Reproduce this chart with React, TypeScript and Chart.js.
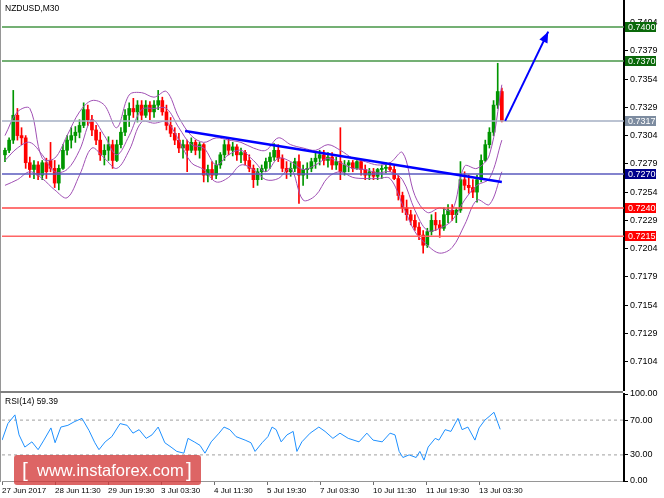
import React, { useEffect, useRef } from 'react';
import { Chart, registerables } from 'chart.js';

Chart.register(...registerables);

const FONT = '"Liberation Sans", Arial, sans-serif';

// ---------- price candles (each candle = 5 x M30 bars) ----------
const candleOpen = [
  0.7287, 0.7291, 0.7300, 0.7322, 0.7304, 0.7302, 0.7280, 0.7274, 0.7278, 0.7269,
  0.7280, 0.7282, 0.7275, 0.7262, 0.7275, 0.7291, 0.7300, 0.7304, 0.7307, 0.7313,
  0.7327, 0.7318, 0.7309, 0.7300, 0.7287, 0.7291, 0.7296, 0.7282, 0.7296, 0.7307,
  0.7322, 0.7328, 0.7325, 0.7331, 0.7322, 0.7331, 0.7325, 0.7331, 0.7335, 0.7325,
  0.7313, 0.7306, 0.7300, 0.7293, 0.7296, 0.7291, 0.7298, 0.7291, 0.7296, 0.7269,
  0.7274, 0.7269, 0.7278, 0.7287, 0.7296, 0.7291, 0.7294, 0.7287, 0.7289, 0.7282,
  0.7275, 0.7265, 0.7272, 0.7275, 0.7281, 0.7285, 0.7291, 0.7284, 0.7275, 0.7272,
  0.7275, 0.7281, 0.7269, 0.7274, 0.7275, 0.7281, 0.7284, 0.7287, 0.7282, 0.7285,
  0.7278, 0.7281, 0.7272, 0.7278, 0.7280, 0.7275, 0.7281, 0.7274, 0.7269, 0.7272,
  0.7268, 0.7274, 0.7275, 0.7276, 0.7274, 0.7266, 0.7251, 0.7240, 0.7234, 0.7229,
  0.7223, 0.7216, 0.7207, 0.7219, 0.7229, 0.7225, 0.7222, 0.7234, 0.7238, 0.7234,
  0.7238, 0.7265, 0.7260, 0.7258, 0.7254, 0.7265, 0.7282, 0.7296, 0.7307, 0.7331,
  0.7343,
];
const candleHigh = [
  0.7293, 0.7302, 0.7344, 0.7328, 0.7311, 0.7304, 0.7285, 0.7282, 0.7281, 0.7282,
  0.7284, 0.7298, 0.7282, 0.7278, 0.7296, 0.7304, 0.7311, 0.7312, 0.7318, 0.7333,
  0.7331, 0.7322, 0.7313, 0.7307, 0.7296, 0.7303, 0.7300, 0.7300, 0.7311, 0.7327,
  0.7333, 0.7337, 0.7335, 0.7335, 0.7335, 0.7334, 0.7335, 0.7344, 0.7338, 0.7331,
  0.7320, 0.7311, 0.7306, 0.7300, 0.7300, 0.7302, 0.7300, 0.7298, 0.7297, 0.7278,
  0.7281, 0.7282, 0.7289, 0.7300, 0.7302, 0.7298, 0.7296, 0.7293, 0.7291, 0.7287,
  0.7278, 0.7275, 0.7278, 0.7284, 0.7289, 0.7297, 0.7296, 0.7287, 0.7281, 0.7280,
  0.7284, 0.7287, 0.7278, 0.7280, 0.7284, 0.7289, 0.7291, 0.7291, 0.7289, 0.7289,
  0.7285, 0.7311, 0.7282, 0.7282, 0.7282, 0.7282, 0.7282, 0.7278, 0.7275, 0.7275,
  0.7275, 0.7278, 0.7280, 0.7280, 0.7277, 0.7269, 0.7254, 0.7247, 0.7238, 0.7234,
  0.7227, 0.7220, 0.7222, 0.7234, 0.7236, 0.7229, 0.7240, 0.7243, 0.7243, 0.7240,
  0.7281, 0.7272, 0.7269, 0.7265, 0.7269, 0.7287, 0.7300, 0.7311, 0.7335, 0.7368,
  0.7346,
];
const candleLow = [
  0.7281, 0.7289, 0.7297, 0.7300, 0.7296, 0.7275, 0.7267, 0.7266, 0.7265, 0.7265,
  0.7266, 0.7272, 0.7258, 0.7256, 0.7274, 0.7287, 0.7293, 0.7298, 0.7302, 0.7311,
  0.7313, 0.7304, 0.7296, 0.7282, 0.7278, 0.7282, 0.7275, 0.7281, 0.7293, 0.7304,
  0.7312, 0.7320, 0.7316, 0.7318, 0.7320, 0.7318, 0.7320, 0.7327, 0.7322, 0.7309,
  0.7303, 0.7296, 0.7289, 0.7284, 0.7272, 0.7289, 0.7287, 0.7284, 0.7263, 0.7263,
  0.7265, 0.7266, 0.7275, 0.7282, 0.7287, 0.7286, 0.7282, 0.7280, 0.7278, 0.7272,
  0.7258, 0.7260, 0.7265, 0.7272, 0.7275, 0.7282, 0.7281, 0.7272, 0.7266, 0.7268,
  0.7272, 0.7244, 0.7260, 0.7266, 0.7272, 0.7275, 0.7278, 0.7278, 0.7276, 0.7274,
  0.7274, 0.7265, 0.7269, 0.7272, 0.7272, 0.7274, 0.7269, 0.7265, 0.7265, 0.7265,
  0.7265, 0.7266, 0.7271, 0.7272, 0.7265, 0.7247, 0.7236, 0.7229, 0.7225, 0.7220,
  0.7212, 0.7200, 0.7205, 0.7216, 0.7220, 0.7214, 0.7220, 0.7227, 0.7229, 0.7227,
  0.7236, 0.7256, 0.7253, 0.7249, 0.7245, 0.7263, 0.7281, 0.7293, 0.7304, 0.7328,
  0.7316,
];
const candleClose = [
  0.7291, 0.7300, 0.7322, 0.7304, 0.7302, 0.7280, 0.7274, 0.7278, 0.7269, 0.7280,
  0.7272, 0.7275, 0.7262, 0.7275, 0.7291, 0.7300, 0.7304, 0.7307, 0.7313, 0.7327,
  0.7318, 0.7309, 0.7300, 0.7287, 0.7291, 0.7296, 0.7282, 0.7296, 0.7307, 0.7322,
  0.7328, 0.7325, 0.7331, 0.7322, 0.7331, 0.7325, 0.7331, 0.7335, 0.7325, 0.7313,
  0.7306, 0.7300, 0.7293, 0.7296, 0.7291, 0.7298, 0.7291, 0.7296, 0.7269, 0.7274,
  0.7269, 0.7278, 0.7287, 0.7296, 0.7291, 0.7294, 0.7287, 0.7289, 0.7282, 0.7275,
  0.7265, 0.7272, 0.7275, 0.7281, 0.7285, 0.7291, 0.7284, 0.7275, 0.7272, 0.7275,
  0.7281, 0.7269, 0.7274, 0.7275, 0.7281, 0.7284, 0.7287, 0.7282, 0.7285, 0.7278,
  0.7281, 0.7272, 0.7278, 0.7280, 0.7275, 0.7281, 0.7274, 0.7269, 0.7272, 0.7268,
  0.7274, 0.7275, 0.7276, 0.7274, 0.7266, 0.7251, 0.7240, 0.7234, 0.7229, 0.7223,
  0.7216, 0.7207, 0.7219, 0.7229, 0.7225, 0.7222, 0.7234, 0.7238, 0.7234, 0.7238,
  0.7265, 0.7260, 0.7258, 0.7254, 0.7265, 0.7282, 0.7296, 0.7307, 0.7331, 0.7343,
  0.7317,
];

// ---------- Bollinger bands, read every 3 candles ----------
const bbIdx = [
  0, 3, 6, 9, 12, 15, 18, 21, 24, 27, 30, 33, 36, 39, 42, 45, 48, 51, 54, 57,
  60, 63, 66, 69, 72, 75, 78, 81, 84, 87, 90, 93, 96, 99, 102, 105, 108, 111, 114, 117, 120,
];
const bbUpper = [
  0.7304, 0.7325, 0.7328, 0.7284, 0.7284, 0.7304, 0.7325, 0.7335, 0.7331, 0.7311,
  0.7340, 0.7342, 0.7338, 0.7343, 0.7320, 0.7304, 0.7298, 0.7302, 0.7300, 0.7298,
  0.7293, 0.7291, 0.7302, 0.7296, 0.7293, 0.7291, 0.7296, 0.7291, 0.7284, 0.7281,
  0.7278, 0.7280, 0.7289, 0.7251, 0.7236, 0.7240, 0.7238, 0.7277, 0.7275, 0.7287,
  0.7349,
];
const bbMiddle = [
  0.7282, 0.7293, 0.7298, 0.7287, 0.7272, 0.7274, 0.7291, 0.7318, 0.7304, 0.7287,
  0.7304, 0.7327, 0.7328, 0.7328, 0.7311, 0.7296, 0.7293, 0.7278, 0.7287, 0.7291,
  0.7282, 0.7272, 0.7284, 0.7281, 0.7274, 0.7278, 0.7284, 0.7280, 0.7275, 0.7274,
  0.7271, 0.7272, 0.7265, 0.7238, 0.7220, 0.7222, 0.7229, 0.7247, 0.7260, 0.7266,
  0.7300,
];
const bbLower = [
  0.7260, 0.7265, 0.7272, 0.7266, 0.7256, 0.7249, 0.7269, 0.7293, 0.7284, 0.7275,
  0.7291, 0.7316, 0.7315, 0.7316, 0.7300, 0.7280, 0.7274, 0.7263, 0.7267, 0.7278,
  0.7274, 0.7265, 0.7266, 0.7275, 0.7247, 0.7251, 0.7267, 0.7272, 0.7267, 0.7266,
  0.7266, 0.7266, 0.7243, 0.7219, 0.7207, 0.7200, 0.7205, 0.7225, 0.7247, 0.7243,
  0.7272,
];

// ---------- RSI(14) ----------
const rsiIdx = [
  -0.7, 0.7, 2.4, 3.4, 4.8, 6.5, 8.0, 9.4, 11.1, 12.1, 13.5, 15.2, 16.7, 18.6, 20.3,
  21.7, 22.7, 24.2, 25.8, 27.8, 29.5, 30.9, 32.4, 34.1, 35.5, 37.0, 38.6, 40.1, 41.5,
  43.2, 44.2, 45.7, 47.1, 48.3, 49.8, 51.7, 52.9, 54.3, 55.8, 58.0, 59.4, 60.4, 62.1,
  63.5, 64.5, 65.5, 66.7, 68.1, 69.6, 70.5, 71.7, 73.7, 75.8, 77.3, 79.2, 80.9, 82.9,
  85.5, 87.4, 88.9, 91.1, 93.0, 94.2, 95.2, 96.1, 97.6, 99.3, 100.2, 101.2, 102.2,
  103.9, 104.8, 106.3, 107.7, 109.4, 110.4, 111.8, 113.5, 114.5, 115.9, 116.9, 118.1,
  119.1, 119.6,
];
const rsiVal = [
  47, 66, 76, 53, 39, 45, 36, 47, 61, 44, 62, 64, 68, 72, 58,
  44, 36, 45, 51, 66, 64, 55, 59, 49, 53, 62, 44, 39, 34,
  32, 49, 45, 41, 32, 45, 55, 62, 59, 51, 47, 44, 34, 44,
  51, 62, 59, 45, 53, 57, 34, 45, 55, 62, 57, 49, 55, 49,
  45, 55, 47, 45, 55, 53, 34, 27, 30, 27, 34, 24, 39,
  49, 47, 59, 57, 72, 59, 62, 47, 61, 70, 74, 79,
  66, 59.39,
];
const rsiLevels = [70, 30];
const rsiTicks = [0, 30, 70, 100];

// ---------- axes ----------
const priceTicks = [
  0.7104, 0.7129, 0.7154, 0.7179, 0.7204, 0.7229, 0.7254, 0.7279, 0.7304, 0.7329,
  0.7354, 0.7379, 0.7404,
];
const dateLabels = [
  '27 Jun 2017', '28 Jun 11:30', '29 Jun 19:30', '3 Jul 03:30', '4 Jul 11:30',
  '5 Jul 19:30', '7 Jul 03:30', '10 Jul 11:30', '11 Jul 19:30', '13 Jul 03:30',
];
const dateTickIdx = [-0.7, 12.1, 24.9, 37.7, 50.5, 63.3, 76.1, 88.9, 101.7, 114.5];

// ---------- drawn objects ----------
const levelValues = [0.74, 0.737, 0.7317, 0.727, 0.724, 0.7215];
const levelLineColors = [
  'rgb(70,150,70)', 'rgb(70,150,70)', 'rgb(165,175,195)', 'rgb(90,90,190)',
  'rgb(255,70,70)', 'rgb(255,100,100)',
];
const levelBoxColors = [
  'rgb(10,105,10)', 'rgb(10,105,10)', 'rgb(125,140,160)', 'rgb(0,0,140)',
  'rgb(255,0,0)', 'rgb(255,0,0)',
];
const trendIdx = [43.5, 120];
const trendPrice = [0.7308, 0.7263];
const arrowIdx = [120.8, 131.2];
const arrowPrice = [0.7317, 0.7396];

const X_MIN = -0.72;
const X_MAX = 149.5;
const Y_MIN = 0.70789;
const Y_MAX = 0.74231;

const GREEN = 'rgb(0,150,0)';
const RED = 'rgb(255,0,0)';
const PURPLE = 'rgb(160,80,180)';
const BLUE = 'rgb(0,0,255)';

const mainFrame = {
  id: 'mainFrame',
  afterDraw(chart: any) {
    const { ctx, chartArea } = chart;
    ctx.save();
    ctx.fillStyle = 'rgb(150,150,150)';
    ctx.fillRect(0, 0, 1, chartArea.bottom + 1);
    ctx.fillStyle = 'rgb(128,128,128)';
    ctx.fillRect(0, chartArea.bottom + 1, chartArea.right - 1, 2);
    // level labels
    const y = chart.scales.y;
    ctx.font = `9px ${FONT}`;
    ctx.textBaseline = 'middle';
    ctx.textAlign = 'left';
    levelValues.forEach((v, i) => {
      const py = Math.round(y.getPixelForValue(v));
      ctx.fillStyle = levelBoxColors[i];
      ctx.fillRect(chartArea.right + 1, py - 5, 31, 10);
      ctx.fillStyle = '#fff';
      ctx.fillText(v.toFixed(4), chartArea.right + 4, py + 0.5);
    });
    // arrow head
    const xs = chart.scales.x;
    const x0 = xs.getPixelForValue(arrowIdx[0]);
    const y0 = y.getPixelForValue(arrowPrice[0]);
    const x1 = xs.getPixelForValue(arrowIdx[1]);
    const y1 = y.getPixelForValue(arrowPrice[1]);
    const ang = Math.atan2(y1 - y0, x1 - x0);
    const len = 11;
    const hw = 4.5;
    const bx = x1 - Math.cos(ang) * len;
    const by = y1 - Math.sin(ang) * len;
    ctx.fillStyle = BLUE;
    ctx.beginPath();
    ctx.moveTo(x1, y1);
    ctx.lineTo(bx + Math.sin(ang) * hw, by - Math.cos(ang) * hw);
    ctx.lineTo(bx - Math.sin(ang) * hw, by + Math.cos(ang) * hw);
    ctx.closePath();
    ctx.fill();
    ctx.restore();
  },
};

const rsiFrame = {
  id: 'rsiFrame',
  afterDraw(chart: any) {
    const { ctx, chartArea } = chart;
    ctx.save();
    ctx.fillStyle = 'rgb(150,150,150)';
    ctx.fillRect(0, chartArea.top - 1, 1, chartArea.bottom - chartArea.top + 2);
    ctx.restore();
  },
};

export default function App() {
  const mainRef = useRef<HTMLCanvasElement>(null);
  const rsiRef = useRef<HTMLCanvasElement>(null);

  useEffect(() => {
    Chart.defaults.font.family = FONT;
    const colors = candleOpen.map((o, i) => (candleClose[i] >= o ? GREEN : RED));

    const levelSets = levelValues.map((v, i) => ({
      type: 'line' as const,
      data: [{ x: X_MIN, y: v }, { x: X_MAX, y: v }],
      borderColor: levelLineColors[i],
      borderWidth: 1.5,
      pointRadius: 0,
      order: 10,
    }));
    const band = (arr: number[]) => ({
      type: 'line' as const,
      data: bbIdx.map((k, i) => ({ x: k, y: arr[i] })),
      borderColor: PURPLE,
      borderWidth: 1,
      pointRadius: 0,
      tension: 0.35,
      order: 20,
    });

    const main = new Chart(mainRef.current as HTMLCanvasElement, {
      type: 'bar',
      data: {
        datasets: [
          {
            type: 'bar',
            data: candleOpen.map((_, i) => ({ x: i, y: [candleLow[i], candleHigh[i]] })) as any,
            backgroundColor: colors,
            barThickness: 1,
            grouped: false,
            order: 31,
          } as any,
          {
            type: 'bar',
            data: candleOpen.map((o, i) => ({ x: i, y: [o, candleClose[i]] })) as any,
            backgroundColor: colors,
            barThickness: 3,
            grouped: false,
            order: 30,
          } as any,
          band(bbUpper),
          band(bbMiddle),
          band(bbLower),
          ...levelSets,
          {
            type: 'line',
            data: trendIdx.map((k, i) => ({ x: k, y: trendPrice[i] })),
            borderColor: BLUE,
            borderWidth: 2.5,
            pointRadius: 0,
            order: 5,
          },
          {
            type: 'line',
            data: arrowIdx.map((k, i) => ({ x: k, y: arrowPrice[i] })),
            borderColor: BLUE,
            borderWidth: 2,
            pointRadius: 0,
            order: 4,
          },
        ] as any,
      },
      options: {
        responsive: false,
        animation: false,
        devicePixelRatio: 1,
        events: [],
        layout: { padding: { left: 2, top: 1, right: 0, bottom: 3 } },
        plugins: { legend: { display: false }, tooltip: { enabled: false } },
        scales: {
          x: { type: 'linear', min: X_MIN, max: X_MAX, display: false, offset: false },
          y: {
            type: 'linear',
            position: 'right',
            min: Y_MIN,
            max: Y_MAX,
            afterBuildTicks: (s: any) => {
              s.ticks = priceTicks.map((v) => ({ value: v }));
            },
            afterFit: (s: any) => {
              s.width = 40;
              s.paddingTop = 0;
              s.paddingBottom = 0;
            },
            ticks: {
              callback: (v: any) => Number(v).toFixed(4),
              font: { size: 9 },
              color: '#000',
              padding: 2,
            },
            grid: { drawOnChartArea: false, drawTicks: true, tickLength: 4, color: '#000' },
            border: { display: true, color: '#000', width: 2 },
          },
        },
      } as any,
      plugins: [mainFrame],
    });

    const rsi = new Chart(rsiRef.current as HTMLCanvasElement, {
      type: 'line',
      data: {
        datasets: [
          {
            data: rsiIdx.map((k, i) => ({ x: k, y: rsiVal[i] })),
            borderColor: 'rgb(30,144,255)',
            borderWidth: 1,
            pointRadius: 0,
            order: 1,
          },
          ...rsiLevels.map((v) => ({
            data: [{ x: X_MIN, y: v }, { x: X_MAX, y: v }],
            borderColor: 'rgb(160,160,160)',
            borderWidth: 1,
            borderDash: [3, 3],
            pointRadius: 0,
            order: 2,
          })),
        ],
      },
      options: {
        responsive: false,
        animation: false,
        devicePixelRatio: 1,
        events: [],
        layout: { padding: { left: 2, top: 8, right: 0, bottom: 0 } },
        plugins: { legend: { display: false }, tooltip: { enabled: false } },
        scales: {
          x: {
            type: 'linear',
            min: X_MIN,
            max: X_MAX,
            afterBuildTicks: (s: any) => {
              s.ticks = dateTickIdx.map((v) => ({ value: v }));
            },
            afterFit: (s: any) => {
              s.height = 17;
              s.paddingLeft = 0;
              s.paddingRight = 0;
            },
            ticks: {
              callback: (_v: any, i: number) => dateLabels[i],
              font: { size: 8 },
              color: '#000',
              align: 'start',
              padding: 1,
              maxRotation: 0,
              autoSkip: false,
            },
            grid: { drawOnChartArea: false, drawTicks: true, tickLength: 4, color: 'rgb(110,110,110)' },
            border: { display: true, color: 'rgb(150,150,150)', width: 1 },
          },
          y: {
            type: 'linear',
            position: 'right',
            min: 0,
            max: 100,
            afterBuildTicks: (s: any) => {
              s.ticks = rsiTicks.map((v) => ({ value: v }));
            },
            afterFit: (s: any) => {
              s.width = 40;
              s.paddingTop = 0;
              s.paddingBottom = 0;
            },
            ticks: {
              callback: (v: any) => Number(v).toFixed(2),
              font: { size: 9 },
              color: '#000',
              padding: 2,
            },
            grid: { drawOnChartArea: false, drawTicks: true, tickLength: 4, color: '#000' },
            border: { display: true, color: '#000', width: 2 },
          },
        },
      } as any,
      plugins: [rsiFrame],
    });

    return () => {
      main.destroy();
      rsi.destroy();
    };
  }, []);

  return (
    <div
      style={{
        position: 'absolute',
        left: 0,
        top: 0,
        width: 664,
        height: 498,
        background: '#fff',
        overflow: 'hidden',
        fontFamily: FONT,
      }}
    >
      <canvas ref={mainRef} width={664} height={393} style={{ position: 'absolute', left: 0, top: 0 }} />
      <canvas ref={rsiRef} width={664} height={112} style={{ position: 'absolute', left: 0, top: 386 }} />
      <div style={{ position: 'absolute', left: 5, top: 3, fontSize: 8.5, color: '#000', lineHeight: '10px' }}>
        NZDUSD,M30
      </div>
      <div style={{ position: 'absolute', left: 5, top: 396, fontSize: 8.5, color: '#000', lineHeight: '10px' }}>
        RSI(14) 59.39
      </div>
      <div
        style={{
          position: 'absolute',
          left: 14,
          top: 455,
          width: 187,
          height: 30,
          background: 'rgba(212,58,58,0.78)',
          borderRadius: 3,
          color: '#fff',
        }}
      >
        <span style={{ position: 'absolute', left: 8, top: 4, fontSize: 21, lineHeight: '21px' }}>[</span>
        <span style={{ position: 'absolute', left: 23, top: 7, fontSize: 16.5, lineHeight: '16.5px' }}>
          www.instaforex.com
        </span>
        <span style={{ position: 'absolute', left: 172, top: 4, fontSize: 21, lineHeight: '21px' }}>]</span>
      </div>
    </div>
  );
}
